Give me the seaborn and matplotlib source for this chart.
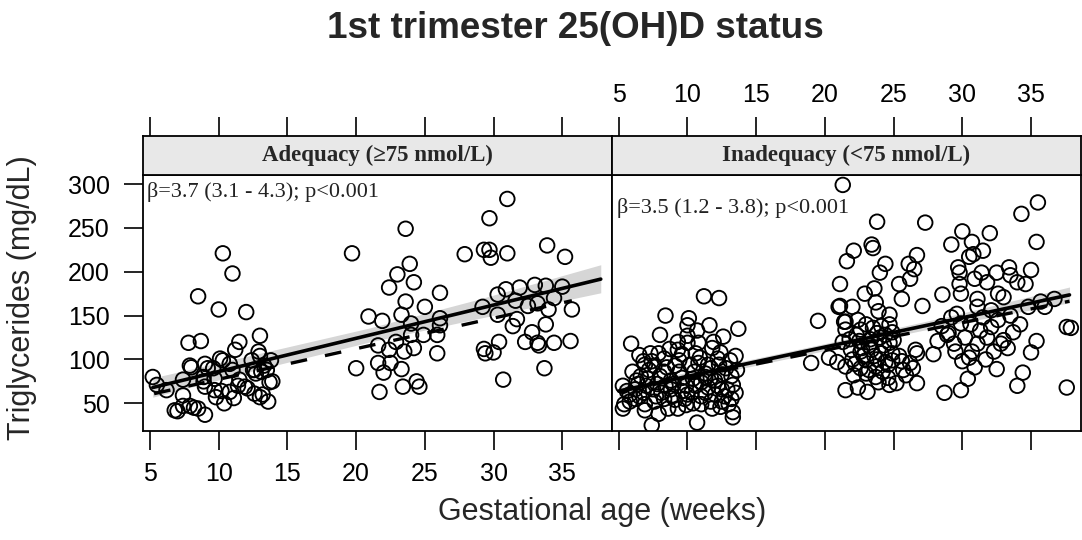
import pandas as pd
import seaborn as sns
import matplotlib.pyplot as plt

# ---- points (gestational week, triglycerides mg/dL) ----
adeq_weeks = [10.3, 11.0, 8.5, 10.0, 12.0,
              7.8, 8.7, 11.5, 11.2, 13.0, 12.9, 13.0, 7.9, 8.0, 9.0, 9.2, 9.6, 10.3, 10.8, 11.0,
              5.2, 5.5, 6.2, 7.4, 7.4, 8.9, 9.0, 9.7, 9.7, 9.8, 10.4, 11.1, 10.8, 11.5, 11.9,
              12.5, 13.1, 13.5, 12.7, 13.8, 13.7, 12.6, 13.0, 13.6, 13.2,
              6.8, 7.0, 7.4, 8.2, 8.5, 9.0,
              10.1, 12.4, 12.6, 13.9, 8.9, 10.2, 12.1, 11.4, 7.9, 13.3,
              19.7, 20.9, 20.0,
              23.6, 31.0, 29.7, 27.9, 29.3, 29.7, 29.8, 31.0, 33.9, 35.2, 23.9, 23.0, 22.4,
              24.2, 23.6, 26.1, 25.0, 23.3, 21.9, 24.0, 26.1, 26.1, 24.0, 24.9, 25.9,
              22.9, 21.6, 22.4, 23.5, 24.2, 21.6, 22.5, 23.3, 22.0, 25.9, 21.7, 23.4, 24.4, 24.6,
              29.2, 30.3, 30.9, 30.3, 31.9, 31.6, 33.0, 33.8, 35.0, 32.5, 33.2, 34.4, 34.0, 35.7,
              31.7, 31.4, 33.8, 32.8, 32.3, 33.2, 34.4, 35.6, 33.3, 30.4, 29.3, 29.4, 30.0,
              33.7, 30.7]
adeq_tg = [221, 198, 172, 157, 154,
           119, 121, 120, 111, 127, 109, 104, 93, 91, 95, 90, 90, 99, 95, 88,
           80, 71, 65, 77, 59, 75, 69, 78, 65, 57, 50, 56, 63, 77, 69,
           88, 86, 88, 84, 99, 74, 61, 57, 52, 60,
           42, 41, 47, 45, 44, 37,
           101, 99, 88, 75, 80, 64, 67, 70, 47, 93,
           221, 149, 90,
           249, 283, 261, 220, 225, 225, 216, 221, 230, 217, 209, 197, 182,
           188, 166, 176, 160, 151, 144, 141, 147, 139, 128, 128, 128,
           120, 116, 111, 109, 113, 96, 96, 89, 85, 107, 63, 69, 75, 69,
           160, 174, 180, 151, 182, 167, 185, 184, 183, 161, 164, 170, 157, 157,
           146, 138, 140, 131, 120, 119, 119, 121, 116, 120, 112, 107, 108,
           90, 77]

inad_weeks = [21.3, 11.2, 12.3, 8.4, 10.1, 10.0, 11.6, 10.7, 13.7, 8.0, 5.9, 12.6, 11.8, 19.5,
              21.1, 21.6, 21.1, 19.0, 20.3, 20.9, 21.5, 21.5, 13.3, 10.7, 7.4, 5.3,
              10.0, 6.5, 7.3, 7.9, 8.3, 9.3, 9.6, 10.6, 10.8, 10.2, 11.5, 12.2, 13.1, 12.8, 11.7,
              9.1, 7.6, 6.9, 8.5, 6.6, 7.1, 8.0, 8.8, 9.6, 10.4, 11.0, 11.7, 12.5, 13.2, 13.3,
              12.2, 11.5, 5.3, 5.6, 6.2, 6.8, 7.5, 8.1, 8.8, 9.6, 10.3, 11.0, 12.0, 12.7, 13.2,
              12.5, 11.7, 10.4, 9.8, 9.1, 8.3, 7.6, 6.9, 6.2, 5.4, 8.6, 9.3, 6.9, 13.3, 13.0,
              11.0, 6.3, 7.4, 9.3, 10.8, 10.0,
              5.8, 6.4, 7.0, 7.8, 8.4, 9.0, 9.9, 10.6, 11.3, 12.0, 12.9, 13.5, 6.0, 7.2, 8.3,
              9.4, 10.5, 11.3, 12.3, 13.6, 7.7, 8.9, 10.0, 11.3, 12.5, 6.5, 9.4, 10.9, 12.4,
              13.5, 8.7, 11.9, 6.8, 9.9, 11.8, 12.4, 7.9, 5.8,
              23.8, 27.3, 22.1, 23.4, 23.5, 24.0, 24.4, 25.4, 26.1, 26.7, 26.5, 26.2, 23.6,
              27.1, 28.55,
              22.9, 25.6, 21.0, 22.0, 23.7, 23.9, 24.7, 21.4, 22.4, 21.5, 22.6, 23.5, 24.1, 24.7,
              24.9, 21.8, 22.5, 23.3, 24.0, 24.7, 21.9, 22.6, 23.4, 24.1, 24.9, 25.4, 26.6, 26.7,
              21.5, 22.2, 23.0, 23.7, 24.4, 24.9, 22.1, 23.0, 23.7, 26.4, 25.9, 22.4, 23.1, 23.9,
              24.7, 25.2, 26.7, 24.6, 26.2, 25.7,
              22.0, 22.8, 23.2, 23.8, 24.3, 22.3, 23.0, 23.8, 24.4, 22.7, 23.6, 24.6, 21.3, 25.0,
              23.2, 24.2, 22.6, 25.6,
              30.0, 32.0, 29.2, 30.7, 30.8, 30.5, 31.5, 29.7, 29.8, 31.4, 32.5, 33.4, 33.5, 35.0,
              34.3, 35.5, 35.4, 34.0, 34.6, 29.8, 30.9, 31.8, 29.9, 31.1, 32.6, 33.0, 32.1, 34.8,
              36.0, 36.7, 35.7, 37.6, 37.9, 35.4, 35.0, 33.7, 34.4, 34.0, 37.6, 32.5, 30.4, 29.9,
              28.7, 30.9, 28.2, 27.9, 28.9, 29.4, 29.5, 30.0, 30.7, 31.1, 31.8, 32.3, 32.8, 33.3,
              31.3, 29.9, 29.2, 32.1, 33.0,
              29.0, 30.2, 30.6, 31.5, 29.6, 28.5, 30.5, 31.7, 32.6, 33.5, 34.2, 31.1]
inad_tg = [299, 172, 170, 150, 147, 139, 139, 133, 135, 128, 118, 126, 113, 144,
           186, 212, 161, 96, 102, 97, 65, 143, 34, 28, 25, 44,
           119, 105, 107, 107, 101, 111, 106, 107, 96, 94, 94, 101, 99, 90, 90,
           93, 93, 94, 91, 81, 78, 81, 76, 79, 78, 74, 79, 83, 81, 71,
           70, 68, 70, 64, 66, 62, 66, 62, 66, 64, 62, 58, 60, 58, 55,
           52, 52, 50, 55, 54, 55, 52, 49, 55, 49, 44, 44, 42, 40, 49,
           49, 76, 98, 120, 119, 127,
           60, 72, 70, 72, 70, 72, 70, 70, 80, 76, 66, 62, 86, 88, 86,
           86, 86, 84, 94, 88, 58, 58, 60, 62, 66, 58, 99, 102, 108,
           104, 112, 120, 98, 48, 44, 46, 38, 52,
           257, 256, 224, 231, 227, 199, 209, 186, 209, 219, 203, 192, 181,
           161, 174,
           175, 169, 160, 160, 165, 155, 151, 143, 145, 134, 134, 136, 138, 140,
           131, 123, 121, 123, 125, 119, 111, 109, 111, 107, 107, 104, 111, 107,
           92, 95, 99, 92, 97, 99, 82, 84, 80, 90, 82, 68, 63, 74,
           71, 73, 73, 79, 96, 88,
           100, 104, 116, 100, 116, 128, 140, 130, 128, 113, 104, 94, 120, 122,
           88, 86, 90, 98,
           246, 244, 231, 234, 220, 217, 224, 205, 199, 199, 199, 205, 196, 202,
           266, 279, 234, 188, 186, 186, 192, 188, 175, 169, 175, 171, 156, 160,
           160, 169, 166, 137, 136, 121, 108, 131, 85, 70, 68, 89, 78, 65,
           62, 91, 121, 106, 128, 118, 109, 98, 109, 118, 125, 109, 118, 113,
           133, 141, 148, 137, 122,
           130, 125, 140, 148, 152, 138, 102, 100, 145, 150, 140, 160]

# ---- fitted lines and confidence band ----
adeq_fit_x = [5.2, 37.8]
adeq_fit_y = [68, 191.6]
adeq_dash_x = [5.3, 35.7]
adeq_dash_y = [61, 167]
adeq_band_x = [5.2, 13, 21, 29, 37.8]
adeq_band_lo = [57, 89, 120, 147, 176]
adeq_band_hi = [79, 107, 136, 169, 208]

inad_fit_x = [5.0, 37.8]
inad_fit_y = [64, 173.6]
inad_dash_x = [5.0, 37.8]
inad_dash_y = [63.4, 166.4]
inad_band_x = [5, 13, 21, 29, 37.8]
inad_band_lo = [58, 86.7, 113.4, 139.2, 164.6]
inad_band_hi = [70, 94.7, 121.4, 149.2, 182.6]

panels = ["Adequacy (\u226575 nmol/L)", "Inadequacy (<75 nmol/L)"]
notes = ["\u03b2=3.7 (3.1 - 4.3); p<0.001", "\u03b2=3.5 (1.2 - 3.8); p<0.001"]
xticks = [5, 10, 15, 20, 25, 30, 35]
yticks = [50, 100, 150, 200, 250, 300]

sns.set_style("white")
sans = ["Liberation Sans", "DejaVu Sans"]
serif = ["Liberation Serif", "DejaVu Serif"]
plt.rcParams["font.family"] = sans

fig = plt.figure(figsize=(10.82, 5.40), dpi=100)
W, H = 1082, 540
left, pw = 143, 468.75
top, bot = 175, 430.5
strip_top = 136
xlim = (4.49, 38.60)
ylim = (19.0, 310.3)

data = [
    (adeq_weeks, adeq_tg, adeq_fit_x, adeq_fit_y, adeq_dash_x, adeq_dash_y,
     adeq_band_x, adeq_band_lo, adeq_band_hi, 291),
    (inad_weeks, inad_tg, inad_fit_x, inad_fit_y, inad_dash_x, inad_dash_y,
     inad_band_x, inad_band_lo, inad_band_hi, 273),
]

for i, (wk, tg, fx, fy, dx, dy, bx, blo, bhi, note_y) in enumerate(data):
    x0 = (left + i * pw) / W
    ax = fig.add_axes([x0, (H - bot) / H, pw / W, (bot - top) / H])
    df = pd.DataFrame({"week": wk, "tg": tg})
    ax.fill_between(bx, blo, bhi, color="#d6d6d6", lw=0, zorder=1)
    sns.scatterplot(data=df, x="week", y="tg", ax=ax, s=110, marker="o",
                    facecolor="none", edgecolor="black", linewidth=1.35, zorder=2)
    sns.lineplot(x=fx, y=fy, ax=ax, color="black", lw=2.6, zorder=3)
    sns.lineplot(x=dx, y=dy, ax=ax, color="black", lw=2.4, linestyle=(0, (5, 5.5)), zorder=3)
    ax.set_xlim(*xlim)
    ax.set_ylim(*ylim)
    ax.set_xlabel("")
    ax.set_ylabel("")
    ax.set_xticks(xticks)
    ax.set_yticks(yticks)
    for sp in ax.spines.values():
        sp.set_color("black")
        sp.set_linewidth(1.3)
    ax.tick_params(axis="x", direction="out", length=14, width=1.2, labelsize=18,
                   pad=9, bottom=True, labelbottom=(i == 0), colors="black")
    ax.tick_params(axis="y", direction="out", length=14, width=1.2, labelsize=18,
                   pad=10, left=(i == 0), labelleft=(i == 0), colors="black")
    ax.text(4.75 if i == 0 else 4.85, note_y, notes[i], family=serif, fontsize=16,
            ha="left", va="center", color="#222222")

    sax = fig.add_axes([x0, (H - top) / H, pw / W, (top - strip_top) / H])
    sax.set_facecolor("#e8e8e8")
    sax.set_xlim(*xlim)
    sax.set_ylim(0, 1)
    sax.set_xticks(xticks)
    sax.set_yticks([])
    for sp in sax.spines.values():
        sp.set_color("black")
        sp.set_linewidth(1.3)
    sax.tick_params(axis="x", direction="out", length=14, width=1.2, labelsize=18, pad=7,
                    bottom=False, labelbottom=False, top=True, labeltop=(i == 1), colors="black")
    sax.text(0.5, 0.5, panels[i], transform=sax.transAxes, ha="center", va="center",
             family=serif, fontweight="bold", fontsize=16.5)

fig.text(575 / W, 1 - 28 / H, "1st trimester 25(OH)D status", ha="center", va="center",
         fontsize=26.5, fontweight="bold")
fig.text(602 / W, 1 - 512 / H, "Gestational age (weeks)", ha="center", va="center", fontsize=22)
fig.text(22 / W, 1 - 298 / H, "Triglycerides (mg/dL)", ha="center", va="center",
         rotation=90, fontsize=22)

fig.savefig("out.png", dpi=100)
